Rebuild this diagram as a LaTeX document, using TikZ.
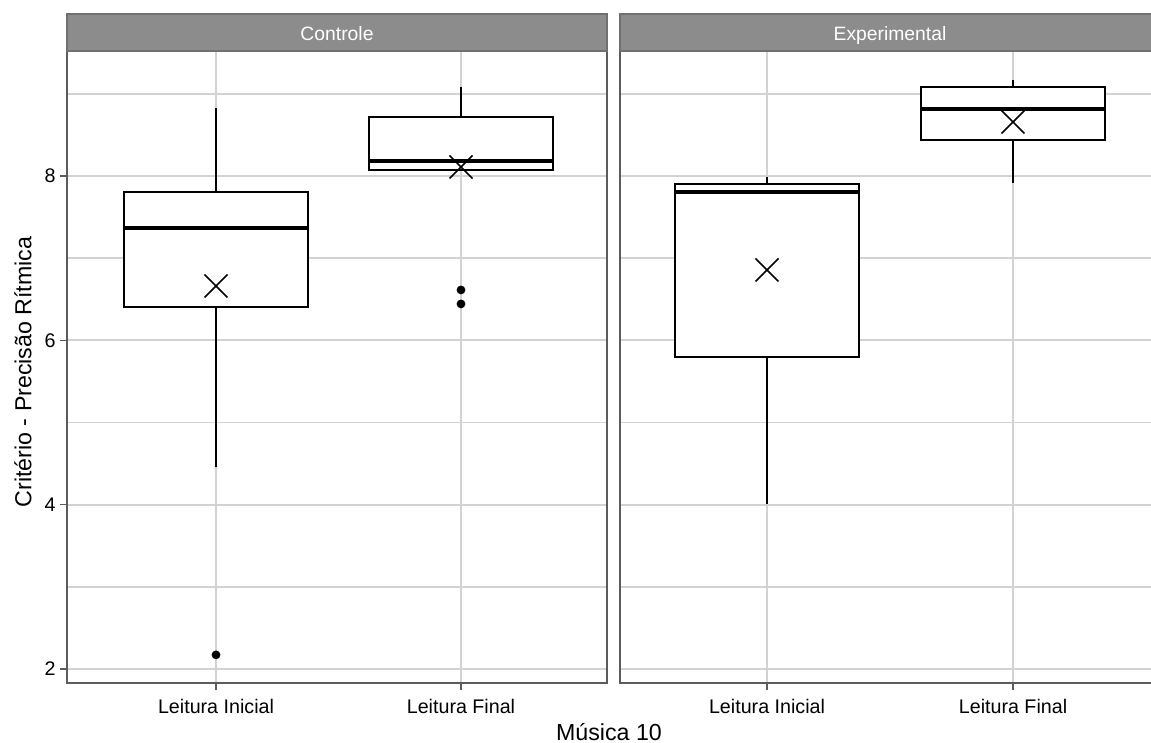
\documentclass[tikz,border=0pt]{standalone}
\usepackage{fontspec}
\setmainfont{Liberation Sans}
\definecolor{stripgray}{HTML}{8C8C8C}
\definecolor{stripline}{HTML}{707070}
\definecolor{gridgray}{HTML}{D2D2D2}
\definecolor{framegray}{HTML}{5C5C5C}

\begin{document}
\begin{tikzpicture}[x=0.02cm, y=1.644cm,
    gridline/.style={gridgray, line width=1.1pt},
    frameline/.style={framegray, line width=0.9pt},
    boxline/.style={black, line width=1.15pt},
    medline/.style={black, line width=2pt},
    ticklab/.style={inner sep=0pt, font=\fontsize{11.2}{13}\selectfont},
    catlab/.style={inner sep=0pt, font=\fontsize{11.2}{13}\selectfont},
    striplab/.style={inner sep=0pt, anchor=base, white, font=\fontsize{11}{13}\selectfont},
    axtitle/.style={inner sep=0pt, font=\fontsize{13.2}{15}\selectfont}]
  \useasboundingbox (0,1.102) rectangle (1151,10.141);

  % panels: grid, strips and frames
  \foreach \xa/\xb/\ca/\cb in {67/607/216/461, 620/1160/767/1013} {
    \foreach \v in {2,3,...,9}
      \draw[gridline] (\xa,\v) -- (\xb,\v);
    \draw[gridline] (\ca,1.832) -- (\ca,9.521);
    \draw[gridline] (\cb,1.832) -- (\cb,9.521);
    \draw[frameline] (\xa,1.832) rectangle (\xb,9.521);
    \draw[stripline, fill=stripgray, line width=0.8pt] (\xa,9.521) rectangle (\xb,9.970);
    \draw[framegray, line width=0.9pt] (\ca,1.832) -- (\ca,1.747);
    \draw[framegray, line width=0.9pt] (\cb,1.832) -- (\cb,1.747);
  }

  % boxes: x / whisker low / Q1 / median / Q3 / whisker high / mean
  \foreach \x/\lo/\qa/\md/\qb/\hi/\mn in {
      216/4.460/6.406/7.367/7.805/8.827/6.662,
      461/8.073/8.073/8.182/8.718/9.083/8.109,
      767/4.010/5.798/7.805/7.903/7.988/6.856,
      1013/7.915/8.438/8.815/9.083/9.168/8.657} {
    \draw[boxline] (\x,\lo) -- (\x,\qa);
    \draw[boxline] (\x,\qb) -- (\x,\hi);
    \draw[boxline, fill=white] (\x-92,\qa) rectangle (\x+92,\qb);
    \draw[medline] (\x-92,\md) -- (\x+92,\md);
    \draw[black, line width=0.9pt] (\x-11.5,\mn-0.14) -- (\x+11.5,\mn+0.14);
    \draw[black, line width=0.9pt] (\x-11.5,\mn+0.14) -- (\x+11.5,\mn-0.14);
  }

  % outliers
  \foreach \x/\v in {216/2.173, 461/6.613, 461/6.443}
    \fill (\x,\v) circle[radius=2.5pt];

  % y axis
  \foreach \v in {2,4,6,8} {
    \draw[framegray, line width=0.9pt] (60,\v) -- (67,\v);
    \node[ticklab, anchor=east] (ytick\v) at (56,\v) {\v};
  }

  % labels
  \node[striplab] (ctrl) at (337,9.642) {Controle};
  \node[striplab] (expt) at (890,9.642) {Experimental};
  \node[catlab] (ctrlini) at (216,1.540) {Leitura Inicial};
  \node[catlab] (ctrlfin) at (461,1.540) {Leitura Final};
  \node[catlab] (exptini) at (767,1.540) {Leitura Inicial};
  \node[catlab] (exptfin) at (1013,1.540) {Leitura Final};
  \node[axtitle] (xtitle) at (609,1.236) {Música 10};
  \node[axtitle, rotate=90] (ytitle) at (23,5.616) {Critério - Precisão Rítmica};
\end{tikzpicture}
\end{document}
